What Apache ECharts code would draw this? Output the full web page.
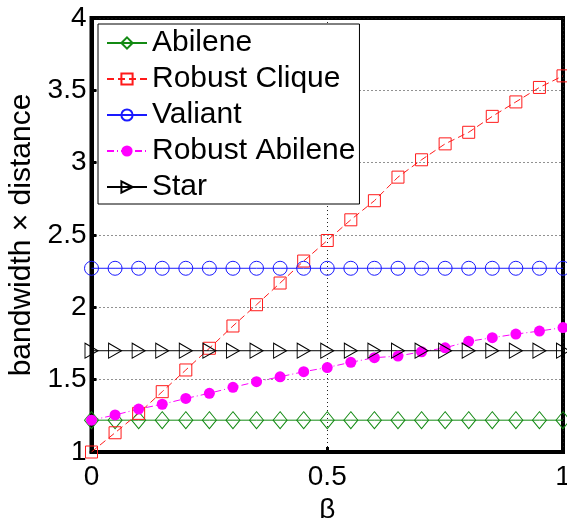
<!DOCTYPE html>
<html>
<head>
<meta charset="utf-8">
<script src="https://cdn.jsdelivr.net/npm/echarts@6/dist/echarts.min.js"></script>
<style>
  html, body { margin: 0; padding: 0; background: #fff; }
  #chart { width: 567px; height: 518px; }
</style>
</head>
<body>
<div id="chart"></div>
<script>
// beta values, 0 .. 1 step 0.05
var betas = [0, 0.05, 0.1, 0.15, 0.2, 0.25, 0.3, 0.35, 0.4, 0.45, 0.5,
  0.55, 0.6, 0.65, 0.7, 0.75, 0.8, 0.85, 0.9, 0.95, 1];

var abilene = [1.22, 1.22, 1.22, 1.22, 1.22, 1.22, 1.22, 1.22, 1.22, 1.22, 1.22,
  1.22, 1.22, 1.22, 1.22, 1.22, 1.22, 1.22, 1.22, 1.22, 1.22];
var robustClique = [1.0, 1.133, 1.267, 1.417, 1.567, 1.717, 1.871, 2.018, 2.168, 2.32, 2.462,
  2.605, 2.737, 2.9, 3.02, 3.13, 3.21, 3.32, 3.42, 3.52, 3.6];
var valiant = [2.27, 2.27, 2.27, 2.27, 2.27, 2.27, 2.27, 2.27, 2.27, 2.27, 2.27,
  2.27, 2.27, 2.27, 2.27, 2.27, 2.27, 2.27, 2.27, 2.27, 2.27];
var robustAbilene = [1.22, 1.256, 1.297, 1.33, 1.37, 1.406, 1.447, 1.486, 1.52, 1.555, 1.584,
  1.62, 1.652, 1.663, 1.693, 1.72, 1.765, 1.79, 1.815, 1.836, 1.86];
var star = [1.7, 1.7, 1.7, 1.7, 1.7, 1.7, 1.7, 1.7, 1.7, 1.7, 1.7,
  1.7, 1.7, 1.7, 1.7, 1.7, 1.7, 1.7, 1.7, 1.7, 1.7];

var names = ["Abilene", "Robust Clique", "Valiant", "Robust Abilene", "Star"];
var xTicks = [0, 0.5, 1];
var yTicks = [1, 1.5, 2, 2.5, 3, 3.5, 4];

function pairs(ys) {
  return betas.map(function (b, i) { return [b, ys[i]]; });
}

var font = "Liberation Sans, Arial, Helvetica, sans-serif";

function mkSeries(name, ys, color, lineType, symbol, size, filled, rotate) {
  return {
    name: name,
    type: "line",
    data: pairs(ys),
    symbol: symbol,
    symbolSize: size,
    symbolRotate: rotate || 0,
    symbolKeepAspect: true,
    showAllSymbol: true,
    animation: false,
    lineStyle: { color: color, width: 1, type: lineType },
    itemStyle: {
      color: filled ? color : "rgba(255,255,255,0)",
      borderColor: color,
      borderWidth: filled ? 0 : 1
    },
    emphasis: { disabled: true }
  };
}

var chart = echarts.init(document.getElementById("chart"));
chart.setOption({
  backgroundColor: "#fff",
  animation: false,
  grid: {
    left: 91.5, right: 4, top: 18, bottom: 66,
    containLabel: false,
    outerBoundsMode: "none",
    show: true, borderColor: "#000", borderWidth: 4
  },
  legend: {
    orient: "vertical",
    left: 98, top: 24,
    data: names,
    backgroundColor: "#fff",
    borderColor: "#000",
    borderWidth: 1,
    borderRadius: 0,
    padding: [4, 4, 2, 8],
    itemWidth: 40,
    itemHeight: 14,
    itemGap: 6,
    textStyle: { fontFamily: font, fontSize: 30, color: "#000", lineHeight: 30 }
  },
  xAxis: {
    type: "value",
    min: 0, max: 1, interval: 0.5,
    name: "β",
    nameLocation: "middle",
    nameGap: 36,
    nameTextStyle: { fontFamily: font, fontSize: 28, color: "#000" },
    axisLine: { show: true, lineStyle: { color: "#000", width: 4 } },
    axisTick: { show: true, inside: true, length: 5, lineStyle: { color: "#000", width: 3 } },
    axisLabel: {
      fontFamily: font, fontSize: 28, color: "#000", margin: 11,
      formatter: function (v) { return xTicks.indexOf(v) >= 0 ? String(v) : ""; }
    },
    splitLine: { show: true, lineStyle: { color: "#222", width: 1, type: [1, 3] } }
  },
  yAxis: {
    type: "value",
    min: 1, max: 4, interval: 0.5,
    name: "bandwidth × distance",
    nameLocation: "middle",
    nameGap: 54,
    nameTextStyle: { fontFamily: font, fontSize: 30, color: "#000" },
    axisLine: { show: true, lineStyle: { color: "#000", width: 4 } },
    axisTick: { show: true, inside: true, length: 5, lineStyle: { color: "#000", width: 3 } },
    axisLabel: {
      fontFamily: font, fontSize: 28, color: "#000", margin: 5,
      formatter: function (v) { return yTicks.indexOf(v) >= 0 ? String(v) : ""; }
    },
    splitLine: { show: true, lineStyle: { color: "#222", width: 1, type: [1, 3] } }
  },
  series: [
    mkSeries("Abilene", abilene, "#138a13", "solid", "diamond", [14, 17], false),
    mkSeries("Robust Clique", robustClique, "#ff1a1a", [7, 4], "rect", 12, false),
    mkSeries("Valiant", valiant, "#1a1aff", "solid", "circle", 14, false),
    mkSeries("Robust Abilene", robustAbilene, "#ff00ff", [7, 3, 1, 3], "circle", 11, true),
    mkSeries("Star", star, "#000", "solid", "triangle", [15, 13], false, -90)
  ]
});
</script>
</body>
</html>
